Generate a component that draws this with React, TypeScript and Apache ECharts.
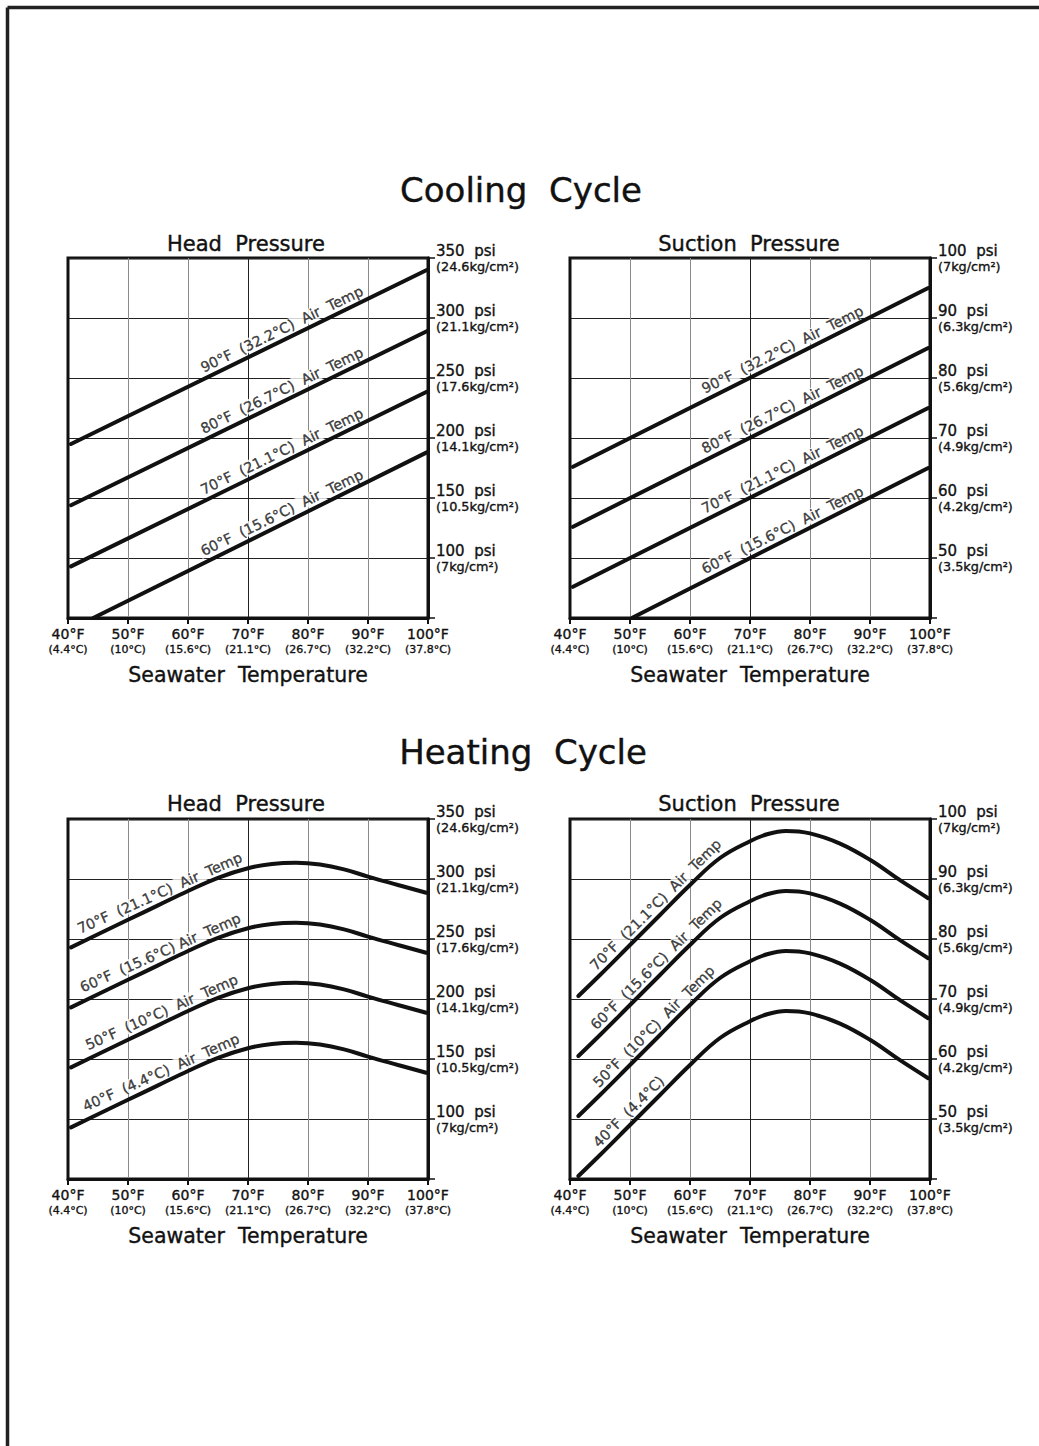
import React, { useEffect, useRef } from 'react';
import * as echarts from 'echarts';

const FONT = 'DejaVu Sans';
const INK = '#111';

// ---- axis tick labels ----
const seawaterF = [40, 50, 60, 70, 80, 90, 100];
const seawaterC = ['4.4°C', '10°C', '15.6°C', '21.1°C', '26.7°C', '32.2°C', '37.8°C'];
const headPsiTicks = [100, 150, 200, 250, 300, 350];
const headKgTicks = ['7kg/cm²', '10.5kg/cm²', '14.1kg/cm²', '17.6kg/cm²', '21.1kg/cm²', '24.6kg/cm²'];
const suctionPsiTicks = [50, 60, 70, 80, 90, 100];
const suctionKgTicks = ['3.5kg/cm²', '4.2kg/cm²', '4.9kg/cm²', '5.6kg/cm²', '6.3kg/cm²', '7kg/cm²'];

// ---- Cooling cycle, head pressure (°F seawater, psi) ----
const coolHead90F = [[40.5, 195], [99.8, 340]];
const coolHead80F = [[40.5, 144], [99.8, 289]];
const coolHead70F = [[40.5, 93], [99.8, 238.5]];
const coolHead60F = [[44.2, 50], [99.8, 188]];
const coolHeadLabels = ['90°F  (32.2°C)  Air  Temp', '80°F  (26.7°C)  Air  Temp', '70°F  (21.1°C)  Air  Temp', '60°F  (15.6°C)  Air  Temp'];

// ---- Cooling cycle, suction pressure ----
const coolSuc90F = [[40.5, 65.2], [99.7, 95]];
const coolSuc80F = [[40.5, 55.2], [99.7, 85]];
const coolSuc70F = [[40.5, 45.2], [99.7, 75]];
const coolSuc60F = [[50.3, 40], [99.7, 65]];
const coolSucLabels = coolHeadLabels;

// ---- Heating cycle, head pressure ----
const heatHeadX = [40.5, 45, 50, 55, 60, 65, 70, 74, 78, 82, 86, 90, 95, 99.7];
const heatHead70F = [243, 254, 266, 278, 290, 301, 309, 312.5, 313.5, 312, 308, 302, 295, 288.5];
const heatHead60F = [193, 204, 216, 228, 240, 251, 259, 262.5, 263.5, 262, 258, 252, 245, 238.5];
const heatHead50F = [143, 154, 166, 178, 190, 201, 209, 212.5, 213.5, 212, 208, 202, 195, 188.5];
const heatHead40F = [93, 104, 116, 128, 140, 151, 159, 162.5, 163.5, 162, 158, 152, 145, 138.5];
const heatHeadLabels = ['70°F  (21.1°C)  Air  Temp', '60°F  (15.6°C) Air  Temp', '50°F  (10°C)  Air  Temp', '40°F  (4.4°C)  Air  Temp'];

// ---- Heating cycle, suction pressure ----
const heatSucX = [41.4, 45, 50, 55, 60, 65, 70, 73, 76, 80, 85, 90, 95, 99.7];
const heatSuc70F = [70.5, 74, 79, 84, 89, 93.5, 96.3, 97.5, 98, 97.6, 95.9, 93.2, 89.8, 86.8];
const heatSuc60F = [60.5, 64, 69, 74, 79, 83.5, 86.3, 87.5, 88, 87.6, 85.9, 83.2, 79.8, 76.8];
const heatSuc50F = [50.5, 54, 59, 64, 69, 73.5, 76.3, 77.5, 78, 77.6, 75.9, 73.2, 69.8, 66.8];
const heatSuc40F = [40.5, 44, 49, 54, 59, 63.5, 66.3, 67.5, 68, 67.6, 65.9, 63.2, 59.8, 56.8];
const heatSucLabels = ['70°F  (21.1°C)  Air  Temp', '60°F  (15.6°C)  Air  Temp', '50°F  (10°C)  Air  Temp', '40°F  (4.4°C)'];

const zipXY = (xs: number[], ys: number[]) => xs.map((x, i) => [x, ys[i]]);

const interp = (pts: number[][], x: number) => {
  for (let i = 0; i < pts.length - 1; i++) {
    const [x0, y0] = pts[i];
    const [x1, y1] = pts[i + 1];
    if (x >= x0 && x <= x1) return y0 + ((y1 - y0) * (x - x0)) / (x1 - x0);
  }
  return pts[pts.length - 1][1];
};

const panels = [
  {
    grid: { left: 68, top: 258, width: 360, height: 360 },
    yMin: 50, yMax: 350, yInt: 50, psi: headPsiTicks, kg: headKgTicks,
    curves: [coolHead90F, coolHead80F, coolHead70F, coolHead60F],
    labels: coolHeadLabels, labelX: [76.4, 76.4, 76.4, 76.4], angle: 26, smooth: false,
  },
  {
    grid: { left: 570, top: 258, width: 360, height: 360 },
    yMin: 40, yMax: 100, yInt: 10, psi: suctionPsiTicks, kg: suctionKgTicks,
    curves: [coolSuc90F, coolSuc80F, coolSuc70F, coolSuc60F],
    labels: coolSucLabels, labelX: [76.2, 76.2, 76.2, 76.2], angle: 26.5, smooth: false,
  },
  {
    grid: { left: 68, top: 819, width: 360, height: 360 },
    yMin: 50, yMax: 350, yInt: 50, psi: headPsiTicks, kg: headKgTicks,
    curves: [zipXY(heatHeadX, heatHead70F), zipXY(heatHeadX, heatHead60F), zipXY(heatHeadX, heatHead50F), zipXY(heatHeadX, heatHead40F)],
    labels: heatHeadLabels, labelX: [56.0, 56.1, 56.3, 56.2], angle: 24, smooth: true,
  },
  {
    grid: { left: 570, top: 819, width: 360, height: 360 },
    yMin: 40, yMax: 100, yInt: 10, psi: suctionPsiTicks, kg: suctionKgTicks,
    curves: [zipXY(heatSucX, heatSuc70F), zipXY(heatSucX, heatSuc60F), zipXY(heatSucX, heatSuc50F), zipXY(heatSucX, heatSuc40F)],
    labels: heatSucLabels, labelX: [55.5, 55.6, 55.2, 51.0], angle: 45, smooth: true,
  },
];

const vLineColors = [INK, '#8a8a8a', '#8a8a8a', '#222', '#8a8a8a', '#8a8a8a', INK];
const BOLDEN = { textBorderColor: INK, textBorderWidth: 0.35 };

function buildOption() {
  const grid: any[] = [];
  const xAxis: any[] = [];
  const yAxis: any[] = [];
  const series: any[] = [];

  panels.forEach((p, g) => {
    grid.push({ ...p.grid, show: true, borderColor: INK, borderWidth: 3, backgroundColor: 'transparent' });
    xAxis.push({
      type: 'value', gridIndex: g, min: 40, max: 100, interval: 10, position: 'bottom',
      name: 'Seawater  Temperature', nameLocation: 'middle', nameGap: 46,
      nameTextStyle: { fontFamily: FONT, fontSize: 20.5, color: INK, ...BOLDEN },
      axisLine: { show: true, onZero: false, lineStyle: { color: INK, width: 3 } },
      axisTick: { show: true, length: 6, lineStyle: { color: INK, width: 2 } },
      axisLabel: {
        margin: 7, fontFamily: FONT, color: INK,
        formatter: (v: number) => {
          const i = seawaterF.indexOf(v);
          return i < 0 ? '' : `{f|${v}°F}\n{c|(${seawaterC[i]})}`;
        },
        rich: {
          f: { fontFamily: FONT, fontSize: 14, lineHeight: 17, color: INK, ...BOLDEN },
          c: { fontFamily: FONT, fontSize: 11, lineHeight: 15, color: INK, ...BOLDEN },
        },
      },
      splitLine: { show: true, lineStyle: { color: vLineColors, width: 1 } },
    });
    yAxis.push({
      type: 'value', gridIndex: g, min: p.yMin, max: p.yMax, interval: p.yInt, position: 'right',
      axisLine: { show: true, onZero: false, lineStyle: { color: INK, width: 3 } },
      axisTick: { show: true, length: 7, lineStyle: { color: INK, width: 1.5 } },
      axisLabel: {
        margin: 8, fontFamily: FONT, color: INK,
        formatter: (v: number) => {
          const i = p.psi.indexOf(v);
          return i < 0 ? '' : `{a|${v}  psi}\n{b|(${p.kg[i]})}`;
        },
        rich: {
          a: { fontFamily: FONT, fontSize: 15, lineHeight: 17, color: INK, ...BOLDEN },
          b: { fontFamily: FONT, fontSize: 12.8, lineHeight: 14, color: INK, ...BOLDEN },
        },
      },
      splitLine: { show: true, lineStyle: { color: '#222', width: 1 } },
    });

    p.curves.forEach((pts) => {
      series.push({
        type: 'line', xAxisIndex: g, yAxisIndex: g, data: pts, symbol: 'none', showSymbol: false,
        smooth: p.smooth ? 0.4 : false, silent: true, z: 4,
        lineStyle: { color: INK, width: 4, cap: 'round' },
      });
    });

    series.push({
      type: 'scatter', xAxisIndex: g, yAxisIndex: g, z: 3, silent: true, symbolSize: 1,
      itemStyle: { color: 'transparent' },
      label: {
        show: true, position: 'inside', formatter: '{b}', fontFamily: FONT, fontSize: 14.3, color: INK,
        ...BOLDEN, backgroundColor: '#fff', padding: [0, 2], offset: [0, -10.5],
      },
      data: p.labels.map((name, i) => ({
        name,
        value: [p.labelX[i], interp(p.curves[i], p.labelX[i])],
        label: { rotate: p.angle },
      })),
    });
  });

  const titleText = (text: string, x: number, y: number, size: number) => ({
    type: 'text', x, y, silent: true,
    style: { text, fontFamily: FONT, fontSize: size, fill: INK, stroke: INK, lineWidth: 0.4, align: 'center', verticalAlign: 'middle' },
  });

  return {
    animation: false,
    backgroundColor: '#fff',
    grid, xAxis, yAxis, series,
    graphic: [
      { type: 'line', shape: { x1: 7.5, y1: 7.5, x2: 1039, y2: 7.5 }, style: { stroke: '#222', lineWidth: 3.5 } },
      { type: 'line', shape: { x1: 7.5, y1: 7.5, x2: 7.5, y2: 1446 }, style: { stroke: '#222', lineWidth: 3.5 } },
      titleText('Cooling  Cycle', 521, 190, 34),
      titleText('Head  Pressure', 246, 244, 21),
      titleText('Suction  Pressure', 749, 244, 21),
      titleText('Heating  Cycle', 523, 752, 34),
      titleText('Head  Pressure', 246, 804, 21),
      titleText('Suction  Pressure', 749, 804, 21),
    ],
  };
}

export default function App() {
  const ref = useRef<HTMLDivElement>(null);
  useEffect(() => {
    document.body.style.margin = '0';
    const chart = echarts.init(ref.current!, undefined, { renderer: 'svg' });
    chart.setOption(buildOption() as any);
    return () => chart.dispose();
  }, []);
  return <div ref={ref} style={{ position: 'absolute', left: 0, top: 0, width: 1039, height: 1446 }} />;
}
